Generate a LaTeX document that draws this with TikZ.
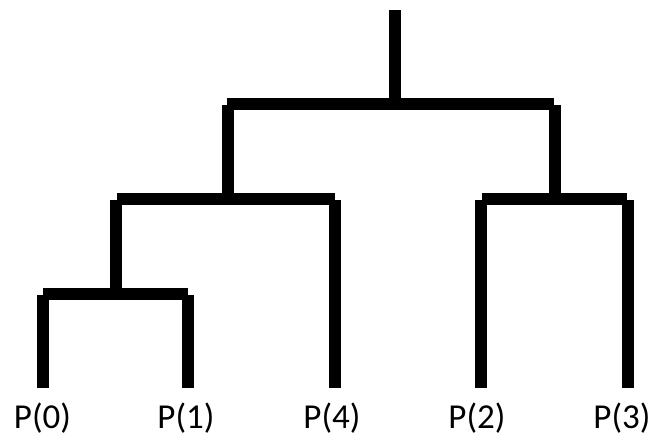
\documentclass[tikz,border=0pt]{standalone}
\usepackage{fontspec}
\setmainfont{Carlito}
\begin{document}
\begin{tikzpicture}[x=1pt,y=-1pt,
  bar/.style={line width=12pt, line cap=butt, black},
  leaf/.style={anchor=base, inner sep=0pt, font=\fontsize{35}{42}\selectfont}]
\useasboundingbox (0,0) rectangle (651,437);
% labels
\node[leaf] (p0) at (42.5,428) {P(0)};
\node[leaf] (p1) at (186,428) {P(1)};
\node[leaf] (p4) at (332,428) {P(4)};
\node[leaf] (p2) at (477,428) {P(2)};
\node[leaf] (p3) at (622,428) {P(3)};
% coordinates
\coordinate (top) at (395,10);
\coordinate (j0) at (395,104);
\coordinate (h0l) at (227,104);
\coordinate (h0r) at (554,104);
\coordinate (aL) at (228,105);
\coordinate (aLb) at (228,199);
\coordinate (aR) at (555,105);
\coordinate (aRb) at (555,199);
\coordinate (h1l) at (117,199);
\coordinate (h1r) at (335,199);
\coordinate (h2l) at (482,199);
\coordinate (h2r) at (627,199);
\coordinate (bL) at (116,200);
\coordinate (bLb) at (116,294);
\coordinate (h3l) at (43,294);
\coordinate (h3r) at (188,294);
\coordinate (l0t) at (42.5,295);
\coordinate (l0b) at (42.5,388);
\coordinate (l1t) at (187.5,295);
\coordinate (l1b) at (187.5,388);
\coordinate (l4t) at (334.5,200);
\coordinate (l4b) at (334.5,388);
\coordinate (l2t) at (481,200);
\coordinate (l2b) at (481,388);
\coordinate (l3t) at (627.5,200);
\coordinate (l3b) at (627.5,388);
% connectors
\draw[bar] (top) -- (j0);
\draw[bar] (h0l) -- (h0r);
\draw[bar] (aL) -- (aLb);
\draw[bar] (aR) -- (aRb);
\draw[bar] (h1l) -- (h1r);
\draw[bar] (h2l) -- (h2r);
\draw[bar] (bL) -- (bLb);
\draw[bar] (h3l) -- (h3r);
\draw[bar] (l0t) -- (l0b);
\draw[bar] (l1t) -- (l1b);
\draw[bar] (l4t) -- (l4b);
\draw[bar] (l2t) -- (l2b);
\draw[bar] (l3t) -- (l3b);
\end{tikzpicture}
\end{document}
